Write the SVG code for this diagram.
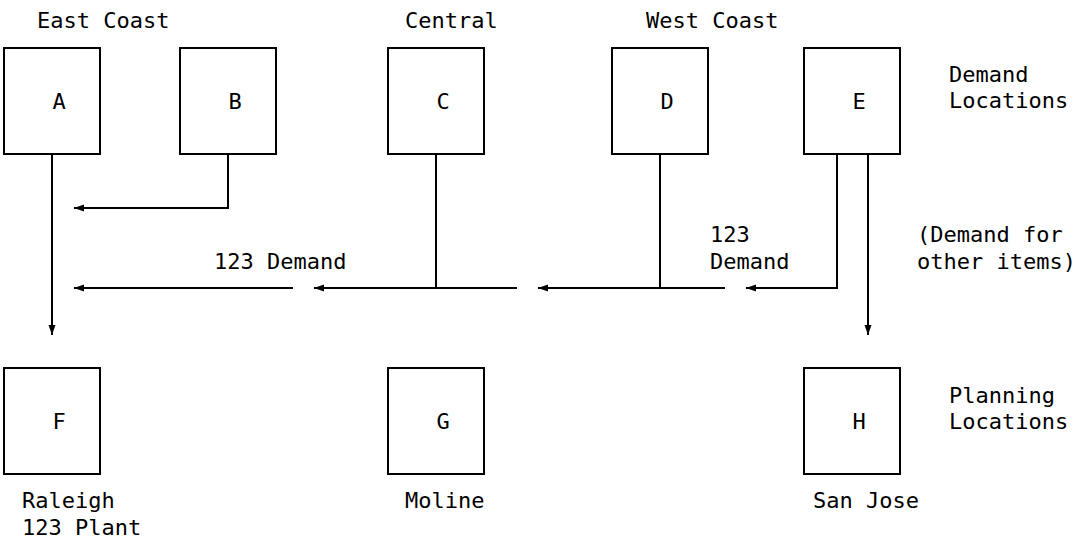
<svg xmlns="http://www.w3.org/2000/svg" width="1078" height="550" viewBox="0 0 1078 550">
<style>
text{font-family:"DejaVu Sans Mono","Liberation Mono",monospace;font-size:22px;fill:#000}
.box{fill:#fff;stroke:#000;stroke-width:2}
.ln{fill:none;stroke:#000;stroke-width:2}
.arr{marker-end:url(#ah)}
.c{text-anchor:middle}
</style>
<defs>
<marker id="ah" markerUnits="userSpaceOnUse" markerWidth="11" markerHeight="8" refX="10" refY="3.5" orient="auto">
<path d="M0,0 L10,3.5 L0,7 z" fill="#000"/>
</marker>
</defs>
<rect width="1078" height="550" fill="#fff"/>
<g id="labels">
<text x="37" y="28">East Coast</text>
<text x="405" y="28">Central</text>
<text x="646" y="28">West Coast</text>
<text x="949" y="82">Demand</text>
<text x="949" y="108">Locations</text>
<text x="949" y="403">Planning</text>
<text x="949" y="429">Locations</text>
<text x="214" y="269">123 Demand</text>
<text x="710" y="242">123</text>
<text x="710" y="269">Demand</text>
<text x="917" y="242">(Demand for</text>
<text x="917" y="269">other items)</text>
<text x="22" y="508">Raleigh</text>
<text x="22" y="535">123 Plant</text>
<text x="405" y="508">Moline</text>
<text x="813" y="508">San Jose</text>
</g>
<g id="connectors">
<line class="ln arr" x1="52" y1="154" x2="52" y2="335"/>
<polyline class="ln arr" points="228,154 228,208 74,208"/>
<line class="ln" x1="436" y1="154" x2="436" y2="288"/>
<line class="ln arr" x1="517" y1="288" x2="314" y2="288"/>
<line class="ln arr" x1="293" y1="288" x2="74" y2="288"/>
<line class="ln" x1="660" y1="154" x2="660" y2="288"/>
<line class="ln arr" x1="725" y1="288" x2="538" y2="288"/>
<polyline class="ln arr" points="837,154 837,288 746,288"/>
<line class="ln arr" x1="868" y1="154" x2="868" y2="335"/>
</g>
<g id="node-A"><rect class="box" x="4" y="48" width="96" height="106"/><text class="c" x="59" y="109">A</text></g>
<g id="node-B"><rect class="box" x="180" y="48" width="96" height="106"/><text class="c" x="235" y="109">B</text></g>
<g id="node-C"><rect class="box" x="388" y="48" width="96" height="106"/><text class="c" x="443" y="109">C</text></g>
<g id="node-D"><rect class="box" x="612" y="48" width="96" height="106"/><text class="c" x="667" y="109">D</text></g>
<g id="node-E"><rect class="box" x="804" y="48" width="96" height="106"/><text class="c" x="859" y="109">E</text></g>
<g id="node-F"><rect class="box" x="4" y="368" width="96" height="106"/><text class="c" x="59" y="429">F</text></g>
<g id="node-G"><rect class="box" x="388" y="368" width="96" height="106"/><text class="c" x="443" y="429">G</text></g>
<g id="node-H"><rect class="box" x="804" y="368" width="96" height="106"/><text class="c" x="859" y="429">H</text></g>
</svg>
